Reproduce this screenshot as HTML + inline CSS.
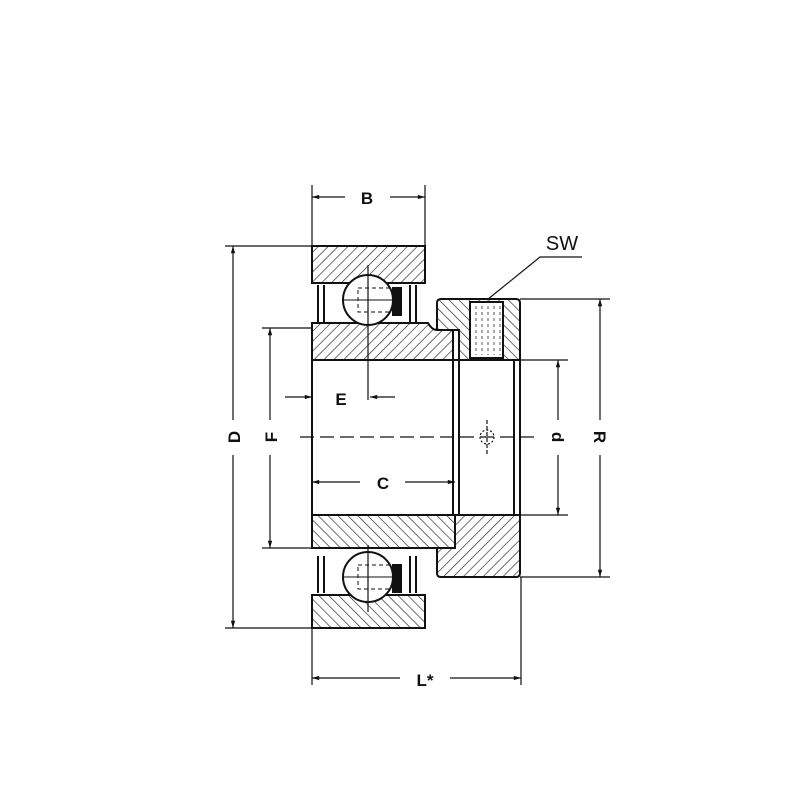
<!DOCTYPE html>
<html><head><style>html,body{margin:0;padding:0;background:#fff}svg{display:block}</style></head>
<body>
<svg width="800" height="800" viewBox="0 0 800 800" xmlns="http://www.w3.org/2000/svg" font-family="Liberation Sans, sans-serif">
<defs>
<pattern id="h" width="7" height="7" patternUnits="userSpaceOnUse" patternTransform="rotate(45)"><line x1="0" y1="0" x2="0" y2="7" stroke="#222" stroke-width="1.3"/></pattern>
<pattern id="h2" width="7" height="7" patternUnits="userSpaceOnUse" patternTransform="rotate(-45)"><line x1="0" y1="0" x2="0" y2="7" stroke="#222" stroke-width="1.3"/></pattern>
<marker id="a" viewBox="0 0 10 10" refX="10" refY="5" markerWidth="8" markerHeight="6" orient="auto"><path d="M0,2 L10,5 L0,8z" fill="#111"/></marker>
</defs>
<g stroke="#111" stroke-width="2" fill="url(#h)">
<path d="M312,246 H425 V283 H312 Z"/>
<path d="M312,323 H428 Q432,330 437,330 H453 V360 H312 Z"/>
<path d="M441,299 H516 Q520,299 520,303 V360 H459 V330 H437 V303 Q437,299 441,299 Z" fill="url(#h2)"/>
<path d="M312,515 H455 V548 H312 Z" fill="url(#h2)"/>
<path d="M455,515 H520 V573 Q520,577 516,577 H441 Q437,577 437,573 V548 H455 Z"/>
<path d="M312,595 H425 V628 H312 Z" fill="url(#h2)"/>
</g>
<rect x="470" y="302" width="33" height="56" fill="#fff" stroke="#111" stroke-width="2"/>
<g stroke="#555" stroke-width="1" stroke-dasharray="3,3">
<line x1="476" y1="306" x2="476" y2="355"/><line x1="482" y1="306" x2="482" y2="355"/><line x1="488" y1="306" x2="488" y2="355"/><line x1="494" y1="306" x2="494" y2="355"/><line x1="500" y1="306" x2="500" y2="355"/>
</g>
<g stroke="#111" stroke-width="2">
<circle cx="368" cy="300" r="25" fill="#fff"/>
<circle cx="368" cy="577" r="25" fill="#fff"/>
<rect x="393" y="288" width="8" height="27" fill="#111"/>
<rect x="393" y="565" width="8" height="27" fill="#111"/>
<path d="M318,285 V322 M324,285 V322 M410,285 V322 M416,285 V322" fill="none"/>
<path d="M318,556 V593 M324,556 V593 M410,556 V593 M416,556 V593" fill="none"/>
</g>
<g stroke="#111" stroke-width="1" stroke-dasharray="4,3" fill="none">
<rect x="358" y="288" width="35" height="24"/><rect x="358" y="565" width="35" height="24"/>
</g>
<line x1="343" y1="300" x2="393" y2="300" stroke="#111"/><line x1="343" y1="577" x2="393" y2="577" stroke="#111"/>
<g stroke="#111" stroke-width="2">
<line x1="312" y1="360" x2="312" y2="515"/>
<line x1="453" y1="360" x2="453" y2="515"/><line x1="459" y1="360" x2="459" y2="515"/>
<line x1="514" y1="360" x2="514" y2="515"/><line x1="520" y1="360" x2="520" y2="515"/>
<line x1="453" y1="360" x2="520" y2="360"/><line x1="453" y1="515" x2="520" y2="515"/>
</g>
<g stroke="#111" stroke-width="1.2" fill="none">
<line x1="300" y1="437" x2="535" y2="437" stroke-dasharray="14,6"/>
<line x1="368" y1="265" x2="368" y2="400"/>
<line x1="368" y1="545" x2="368" y2="612"/>
<line x1="487" y1="420" x2="487" y2="455" stroke-dasharray="4,2"/>
<circle cx="487" cy="437" r="7" stroke-dasharray="2,2"/>
</g>
<g stroke="#111" stroke-width="1.2">
<line x1="312" y1="185" x2="312" y2="246"/><line x1="425" y1="185" x2="425" y2="246"/>
<line x1="225" y1="246" x2="312" y2="246"/><line x1="225" y1="628" x2="312" y2="628"/>
<line x1="262" y1="328" x2="312" y2="328"/><line x1="262" y1="548" x2="312" y2="548"/>
<line x1="312" y1="628" x2="312" y2="685"/><line x1="521" y1="577" x2="521" y2="685"/>
<line x1="520" y1="299" x2="610" y2="299"/><line x1="520" y1="577" x2="610" y2="577"/>
<line x1="520" y1="360" x2="568" y2="360"/><line x1="520" y1="515" x2="568" y2="515"/>
</g>
<g stroke="#111" stroke-width="1.2" marker-end="url(#a)">
<line x1="345" y1="197" x2="312" y2="197"/><line x1="390" y1="197" x2="425" y2="197"/>
<line x1="233" y1="420" x2="233" y2="246"/><line x1="233" y1="455" x2="233" y2="628"/>
<line x1="270" y1="420" x2="270" y2="328"/><line x1="270" y1="455" x2="270" y2="548"/>
<line x1="285" y1="397" x2="312" y2="397"/><line x1="395" y1="397" x2="370" y2="397"/>
<line x1="360" y1="482" x2="312" y2="482"/><line x1="405" y1="482" x2="455" y2="482"/>
<line x1="400" y1="678" x2="312" y2="678"/><line x1="450" y1="678" x2="521" y2="678"/>
<line x1="558" y1="420" x2="558" y2="360"/><line x1="558" y1="455" x2="558" y2="515"/>
<line x1="600" y1="420" x2="600" y2="299"/><line x1="600" y1="455" x2="600" y2="577"/>
</g>
<polyline points="487,300 540,257 582,257" fill="none" stroke="#111" stroke-width="1.2"/>
<g font-size="17" font-weight="bold" fill="#111" text-anchor="middle">
<text x="367" y="204">B</text>
<text x="562" y="250" font-size="20" font-weight="normal">SW</text>
<text x="341" y="405">E</text>
<text x="383" y="489">C</text>
<text x="425" y="686">L*</text>
<text transform="translate(240,437) rotate(-90)">D</text>
<text transform="translate(277,437) rotate(-90)">F</text>
<text transform="translate(558,437) rotate(90)" dy="6">d</text>
<text transform="translate(600,437) rotate(90)" dy="6">R</text>
</g>
</svg>
</body></html>
